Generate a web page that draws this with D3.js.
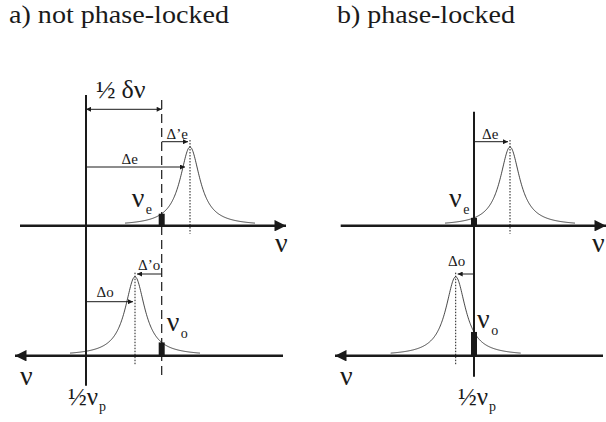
<!DOCTYPE html>
<html>
<head>
<meta charset="utf-8">
<script src="https://cdn.jsdelivr.net/npm/d3@7"></script>
<style>
  html, body { margin: 0; padding: 0; background: #fff; }
  svg { display: block; }
</style>
</head>
<body>
<svg id="fig" width="606" height="422"></svg>
<script>
// Frequencies are given relative to half the pump frequency (½νp), in arbitrary units.
const panelTitles = ["a) not phase-locked", "b) phase-locked"];
const signalMode  = [75.7, 0];     // νe − ½νp  (= +½δν in panel a)
const idlerMode   = [-75.7, 0];    // νo − ½νp  (= −½δν in panel a)
const signalPeak  = [104, 36];     // cavity resonance of the signal, relative to ½νp
const idlerPeak   = [-49, 18.3];   // cavity resonance of the idler, relative to ½νp
const halfWidth   = 12;            // Lorentzian half-width at half-maximum
const lineSpan    = 65;            // extent of the drawn resonance on each side of its peak

// Page layout for the two panels
const layout = [
  { origin: 86,  titleX: 9,   titleLen: 220, topAxis: [20, 286],    botAxis: [15, 283],  vTop: 95,    vBot: 385.7,
    neDx: -30, noDx: 5, halfDx: -18, nuTopX: 275 },
  { origin: 474, titleX: 337, titleLen: 178, topAxis: [340.7, 606], botAxis: [335, 603], vTop: 111.7, vBot: 376.7,
    neDx: -25, noDx: 3, halfDx: -16, nuTopX: 592 }
];
const topBase = 225.7, topPeakY = 147;
const botBase = 355.7, botPeakY = 276.7;

const svg = d3.select("#fig");
const ink = "#1a1a1a";

const defs = svg.append("defs");
defs.append("marker").attr("id", "head").attr("viewBox", "0 0 10 10")
  .attr("refX", 10).attr("refY", 5).attr("markerWidth", 7).attr("markerHeight", 5)
  .attr("markerUnits", "userSpaceOnUse").attr("orient", "auto-start-reverse")
  .append("path").attr("d", "M0,0 L10,5 L0,10 Z").attr("fill", ink);
defs.append("marker").attr("id", "bighead").attr("viewBox", "0 0 10 10")
  .attr("refX", 10).attr("refY", 5).attr("markerWidth", 17).attr("markerHeight", 11.5)
  .attr("markerUnits", "userSpaceOnUse").attr("orient", "auto-start-reverse")
  .append("path").attr("d", "M0,0 L10,5 L0,10 Z").attr("fill", ink);

const lorentz = (nu, nu0) => 1 / (1 + Math.pow((nu - nu0) / halfWidth, 2));

function txt(g, x, y, size) {
  return g.append("text").attr("x", x).attr("y", y).attr("font-size", size)
    .style("font-family", "Liberation Serif").attr("fill", ink);
}
function nuLabel(g, x, y, sub, size, subSize) {
  const t = txt(g, x, y, size);
  t.append("tspan").text("ν");
  if (sub) t.append("tspan").attr("dx", 1.5).attr("dy", size * 0.26).attr("font-size", subSize).text(sub);
  return t;
}
function halfNuP(g, x, y) {
  const t = txt(g, x, y, 25);
  t.append("tspan").text("½ν");
  t.append("tspan").attr("dx", 1).attr("dy", 6).attr("font-size", 14).text("p");
}
function arrow(g, x1, x2, y, both) {
  const l = g.append("line").attr("x1", x1).attr("x2", x2).attr("y1", y).attr("y2", y)
    .attr("stroke", ink).attr("stroke-width", 1).attr("marker-end", "url(#head)");
  if (both) l.attr("marker-start", "url(#head)");
}

layout.forEach((L, i) => {
  const g = svg.append("g");
  // top axis: ν increases to the right; bottom axis: ν increases to the left
  const xTop = d3.scaleLinear().domain([L.topAxis[0] - L.origin, L.topAxis[1] - L.origin]).range(L.topAxis);
  const xBot = d3.scaleLinear().domain([L.origin - L.botAxis[0], L.origin - L.botAxis[1]]).range(L.botAxis);
  const yTop = d3.scaleLinear().domain([0, 1]).range([topBase, topPeakY]);
  const yBot = d3.scaleLinear().domain([0, 1]).range([botBase, botPeakY]);

  txt(g, L.titleX, 23, 25).attr("textLength", L.titleLen)
    .attr("lengthAdjust", "spacingAndGlyphs").text(panelTitles[i]);

  // resonance curves
  const sPk = signalPeak[i], iPk = idlerPeak[i];
  const sPts = d3.range(sPk - lineSpan, sPk + lineSpan + 0.01, 0.5);
  const iPts = d3.range(iPk - lineSpan, iPk + lineSpan + 0.01, 0.5);
  g.append("path").attr("fill", "none").attr("stroke", ink).attr("stroke-width", 0.8)
    .attr("d", d3.line().x(d => xTop(d)).y(d => yTop(lorentz(d, sPk)))(sPts));
  g.append("path").attr("fill", "none").attr("stroke", ink).attr("stroke-width", 0.8)
    .attr("d", d3.line().x(d => xBot(d)).y(d => yBot(lorentz(d, iPk)))(iPts));

  // dotted lines through the resonance peaks
  g.append("line").attr("x1", xTop(sPk)).attr("x2", xTop(sPk)).attr("y1", topPeakY - 7).attr("y2", topBase + 8)
    .attr("stroke", ink).attr("stroke-width", 1).attr("stroke-dasharray", "1.5,1.5");
  g.append("line").attr("x1", xBot(iPk)).attr("x2", xBot(iPk)).attr("y1", botPeakY - 4).attr("y2", botBase + 9)
    .attr("stroke", ink).attr("stroke-width", 1).attr("stroke-dasharray", "1.5,1.5");

  // horizontal axes
  g.append("line").attr("x1", L.topAxis[0]).attr("x2", L.topAxis[1]).attr("y1", topBase).attr("y2", topBase)
    .attr("stroke", ink).attr("stroke-width", 2.6).attr("marker-end", "url(#bighead)");
  g.append("line").attr("x1", L.botAxis[1]).attr("x2", L.botAxis[0]).attr("y1", botBase).attr("y2", botBase)
    .attr("stroke", ink).attr("stroke-width", 2.6).attr("marker-end", "url(#bighead)");

  // vertical line at ½νp
  g.append("line").attr("x1", L.origin).attr("x2", L.origin).attr("y1", L.vTop).attr("y2", L.vBot)
    .attr("stroke", ink).attr("stroke-width", 2);

  // dashed line at the oscillating modes when they are detuned from ½νp
  if (signalMode[i] !== 0) {
    const xm = xTop(signalMode[i]);
    g.append("line").attr("x1", xm).attr("x2", xm).attr("y1", 100).attr("y2", 376.7)
      .attr("stroke", ink).attr("stroke-width", 1.2).attr("stroke-dasharray", "9,5");
    arrow(g, L.origin, xm, 109.3, true);
    const t = txt(g, 96, 98, 26);
    t.append("tspan").text("½");
    t.append("tspan").attr("dx", 6).text("δν");
  }

  // oscillating mode markers (height = resonance response at the mode)
  const sH = lorentz(signalMode[i], sPk), iH = lorentz(idlerMode[i], iPk);
  g.append("rect").attr("x", xTop(signalMode[i]) - 3).attr("width", 6)
    .attr("y", yTop(sH)).attr("height", topBase - yTop(sH) + 1).attr("fill", ink);
  g.append("rect").attr("x", xBot(idlerMode[i]) - 3).attr("width", 6)
    .attr("y", yBot(iH)).attr("height", botBase - yBot(iH) + 1).attr("fill", ink);

  // detuning arrows
  if (signalMode[i] !== 0) {
    arrow(g, L.origin, xTop(sPk) - 5, 167);
    txt(g, 121.5, 164, 15).text("Δe");
    arrow(g, xTop(signalMode[i]), xTop(sPk) - 2, 141.7);
    txt(g, 166.5, 139, 15).text("Δ’e");
    arrow(g, L.origin, xBot(iPk) - 2, 301.7);
    txt(g, 96.5, 296.5, 15).text("Δo");
    arrow(g, xBot(idlerMode[i]), xBot(iPk) + 2, 274);
    txt(g, 138, 270, 15).text("Δ’o");
  } else {
    arrow(g, L.origin, xTop(sPk) - 2, 141.7);
    txt(g, 482, 139, 15).text("Δe");
    arrow(g, L.origin, xBot(iPk) + 2, 274);
    txt(g, 448, 266, 15).text("Δo");
  }

  // mode labels
  const xe = xTop(signalMode[i]), xo = xBot(idlerMode[i]);
  nuLabel(g, xe + L.neDx, 207, "e", 28, 14);
  nuLabel(g, xo + L.noDx, i === 0 ? 331 : 327.5, "o", 28, 14);

  // axis labels
  nuLabel(g, L.nuTopX, 252, null, 28);
  nuLabel(g, L.botAxis[0] + 5, 385, null, 28);
  halfNuP(g, L.origin + L.halfDx, 405);
});
</script>
</body>
</html>
